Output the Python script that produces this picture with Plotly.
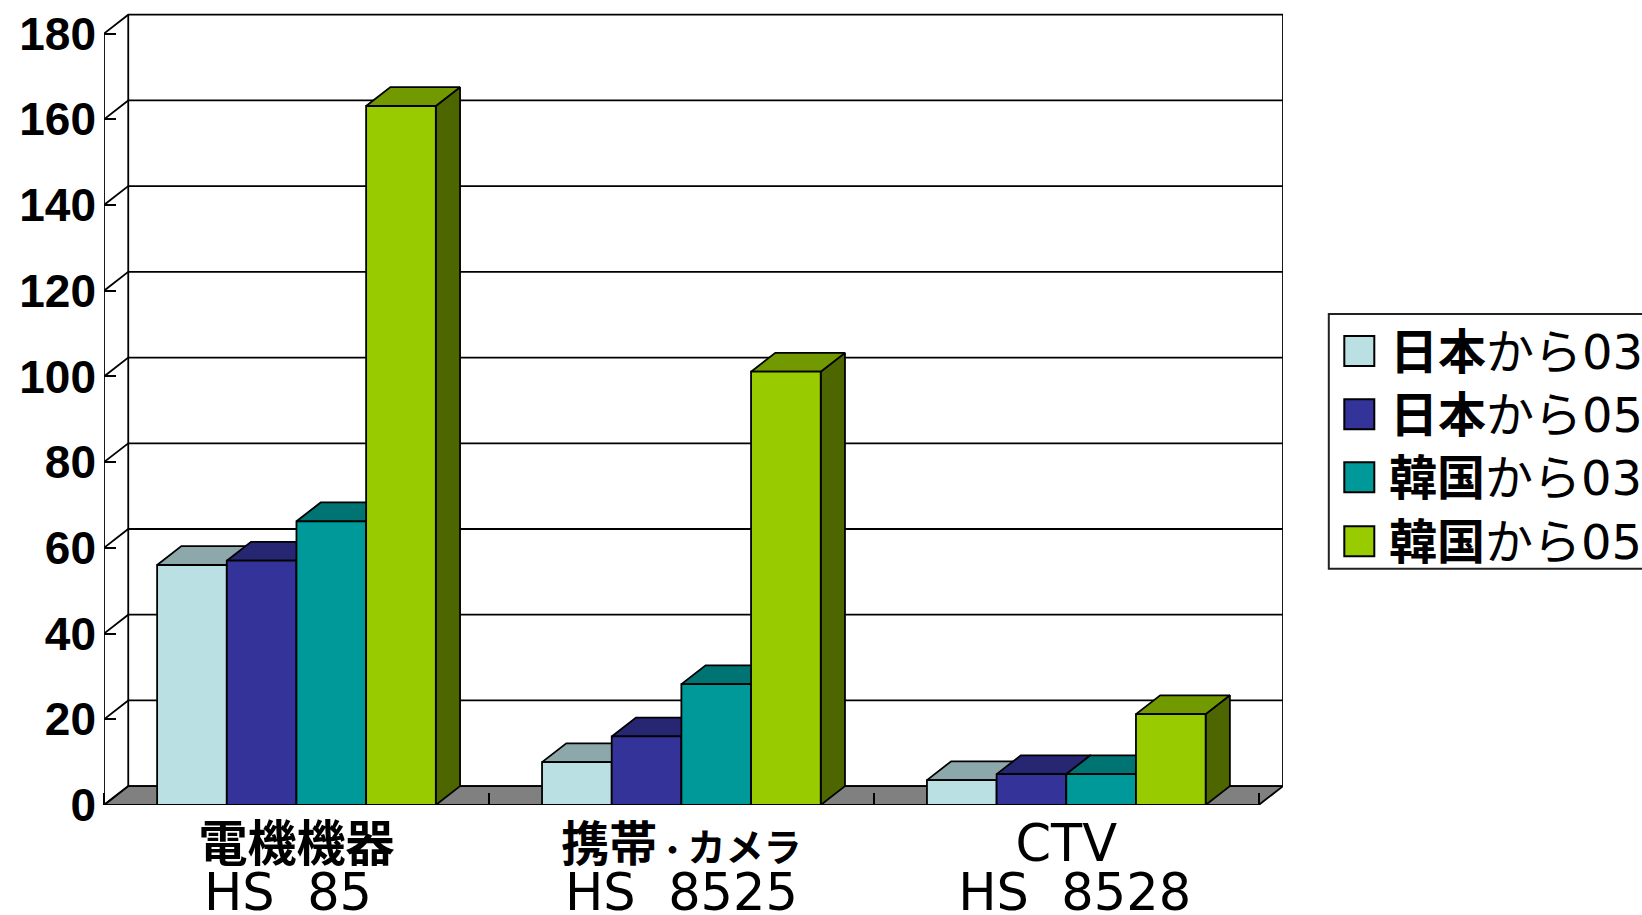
import plotly.graph_objects as go

# ---- data ----
groups_line1 = ["<b>電機機器</b>",
                "<b><span style=\"font-size:48px\">携帯</span><span style=\"font-size:30px\">・</span>"
                "<span style=\"font-size:38px\">カメラ</span></b>",
                "<span style=\"font-size:51px\">CTV</span>"]
groups_line2 = ["HS\u00a0\u00a085\u00a0", "HS\u00a0\u00a08525", "\u00a0HS\u00a0\u00a08528"]
series_names = ["日本から03", "日本から05", "韓国から03", "韓国から05"]
legend_kanji = ["日本", "日本", "韓国", "韓国"]
legend_kana = ["から", "から", "から", "から"]
legend_num = ["03", "05", "03", "05"]
japan_03 = [56, 10, 5.8]
japan_05 = [57, 16, 7.2]
korea_03 = [66.2, 28.2, 7.2]
korea_05 = [163.1, 101.1, 21.2]
y_ticks = [0, 20, 40, 60, 80, 100, 120, 140, 160, 180]

series_values = [japan_03, japan_05, korea_03, korea_05]
front_colors = ["#BBE0E3", "#333399", "#009999", "#99CC00"]
top_colors = ["#8CA8AA", "#262673", "#007373", "#739900"]
side_colors = ["#5E7072", "#1A1A4D", "#004D4D", "#4D6600"]

# ---- style / geometry ----
W, H = 1642, 915
L, R, T, B = 103.7, 359.3, 12.5, 110.2
BLACK = "#000000"
LW = 1.8
bar_w = 0.181
dx = 0.063    # oblique depth in x units
dy = 4.4      # oblique depth in y units
x_min, x_max = -0.5, 2.5 + dx
y_max = 184.8
plot_w = W - L - R
plot_h = H - T - B
SANS = "'Noto Sans CJK JP', sans-serif"
LATIN = "'DejaVu Sans', 'Noto Sans CJK JP', sans-serif"


def px(x):
    return (x - L) / plot_w


def py(y):
    return (H - B - y) / plot_h


def outline(xs, ys, **kw):
    return go.Scatter(x=xs, y=ys, mode="lines", hoverinfo="skip", showlegend=False,
                      cliponaxis=False, line=dict(color=BLACK, width=LW), **kw)


fig = go.Figure()

# floor
fig.add_trace(outline([x_min, x_max - dx, x_max, x_min + dx, x_min],
                      [0, 0, dy, dy, 0], fill="toself", fillcolor="#808080", zorder=0))

# back wall gridlines, wall edges and the oblique lines to the front axis
gx, gy = [], []
for v in y_ticks:
    gx += [x_min, x_min + dx, x_max, None]
    gy += [v, v + dy, v + dy, None]
gx += [x_min, x_min, None, x_min + dx, x_min + dx, None, x_max, x_max, None]
gy += [0, 180, None, dy, 180 + dy, None, dy, 180 + dy, None]
fig.add_trace(outline(gx, gy, zorder=1))

# bars: oblique faces first, then the front face, in painter's order
for i, (name, vals) in enumerate(zip(series_names, series_values)):
    offset = -2 * bar_w + i * bar_w
    tx, ty, sx, sy = [], [], [], []
    for g, v in enumerate(vals):
        a, b = g + offset, g + offset + bar_w
        tx += [a, a + dx, b + dx, b, a, None]
        ty += [v, v + dy, v + dy, v, v, None]
        sx += [b, b + dx, b + dx, b, b, None]
        sy += [0, dy, v + dy, v, 0, None]
    fig.add_trace(outline(sx, sy, fill="toself", fillcolor=side_colors[i], zorder=10 + 3 * i))
    fig.add_trace(outline(tx, ty, fill="toself", fillcolor=top_colors[i], zorder=11 + 3 * i))
    fig.add_trace(go.Bar(x=list(range(len(vals))), y=vals, name=name, width=bar_w, offset=offset,
                         marker=dict(color=front_colors[i], line=dict(color=BLACK, width=LW)),
                         cliponaxis=False, zorder=12 + 3 * i, showlegend=False))

# second line of each category label
annotations = [dict(x=g, y=py(892), xref="x", yref="paper", text=t, showarrow=False,
                    xanchor="center", yanchor="middle",
                    font=dict(family=LATIN, size=51, color=BLACK))
               for g, t in enumerate(groups_line2)]

# legend (swatches larger than the native legend can draw; runs off the page edge as in the source)
shapes = [dict(type="rect", xref="paper", yref="paper", x0=px(1328.5), x1=px(1720),
               y0=py(568.5), y1=py(313.5), line=dict(color="#222222", width=2), fillcolor="white",
               layer="above")]
row_y = [350.7, 414, 477, 541]
text_x = [1388, 1388, 1387, 1387]
for i in range(4):
    shapes.append(dict(type="rect", xref="paper", yref="paper", x0=px(1344), x1=px(1374),
                       y0=py(row_y[i] + 15), y1=py(row_y[i] - 15),
                       fillcolor=front_colors[i], line=dict(color=BLACK, width=2), layer="above"))
    annotations.append(dict(
        x=px(text_x[i]), y=py(row_y[i] - 3), xref="paper", yref="paper", showarrow=False,
        xanchor="left", yanchor="middle", align="left",
        text=f"<b>{legend_kanji[i]}</b>{legend_kana[i]}"
             f"<span style=\"font-family:'DejaVu Sans'\">{legend_num[i]}</span>",
        font=dict(family=SANS, size=48, color=BLACK)))

fig.update_layout(
    width=W, height=H, margin=dict(l=L, r=R, t=T, b=B, autoexpand=False),
    paper_bgcolor="white", plot_bgcolor="white", barmode="overlay", showlegend=False,
    shapes=shapes, annotations=annotations,
    xaxis=dict(range=[x_min, x_max], tickmode="array", tickvals=[0, 1, 2], ticktext=groups_line1,
               showgrid=False, zeroline=False, showline=False, ticks="", automargin=False,
               tickfont=dict(family=LATIN, size=49, color=BLACK),
               ticklabelstandoff=6, ticklabeloverflow="allow",
               minor=dict(tickmode="array", tickvals=[-0.5, 0.5, 1.5, 2.5], ticks="inside",
                          ticklen=12, tickwidth=2, tickcolor=BLACK, showgrid=False)),
    yaxis=dict(range=[0, y_max], tickmode="array", tickvals=y_ticks, showgrid=False, zeroline=False,
               showline=False, ticks="inside", ticklen=12, tickwidth=2, tickcolor=BLACK,
               automargin=False, ticklabelstandoff=7, ticklabeloverflow="allow",
               tickfont=dict(family="'Liberation Sans', sans-serif", size=46, color=BLACK, weight="bold")),
)

fig.write_html("out.html", config={"displayModeBar": False},
               post_script="document.body.style.margin='0';document.body.style.overflow='hidden';")
